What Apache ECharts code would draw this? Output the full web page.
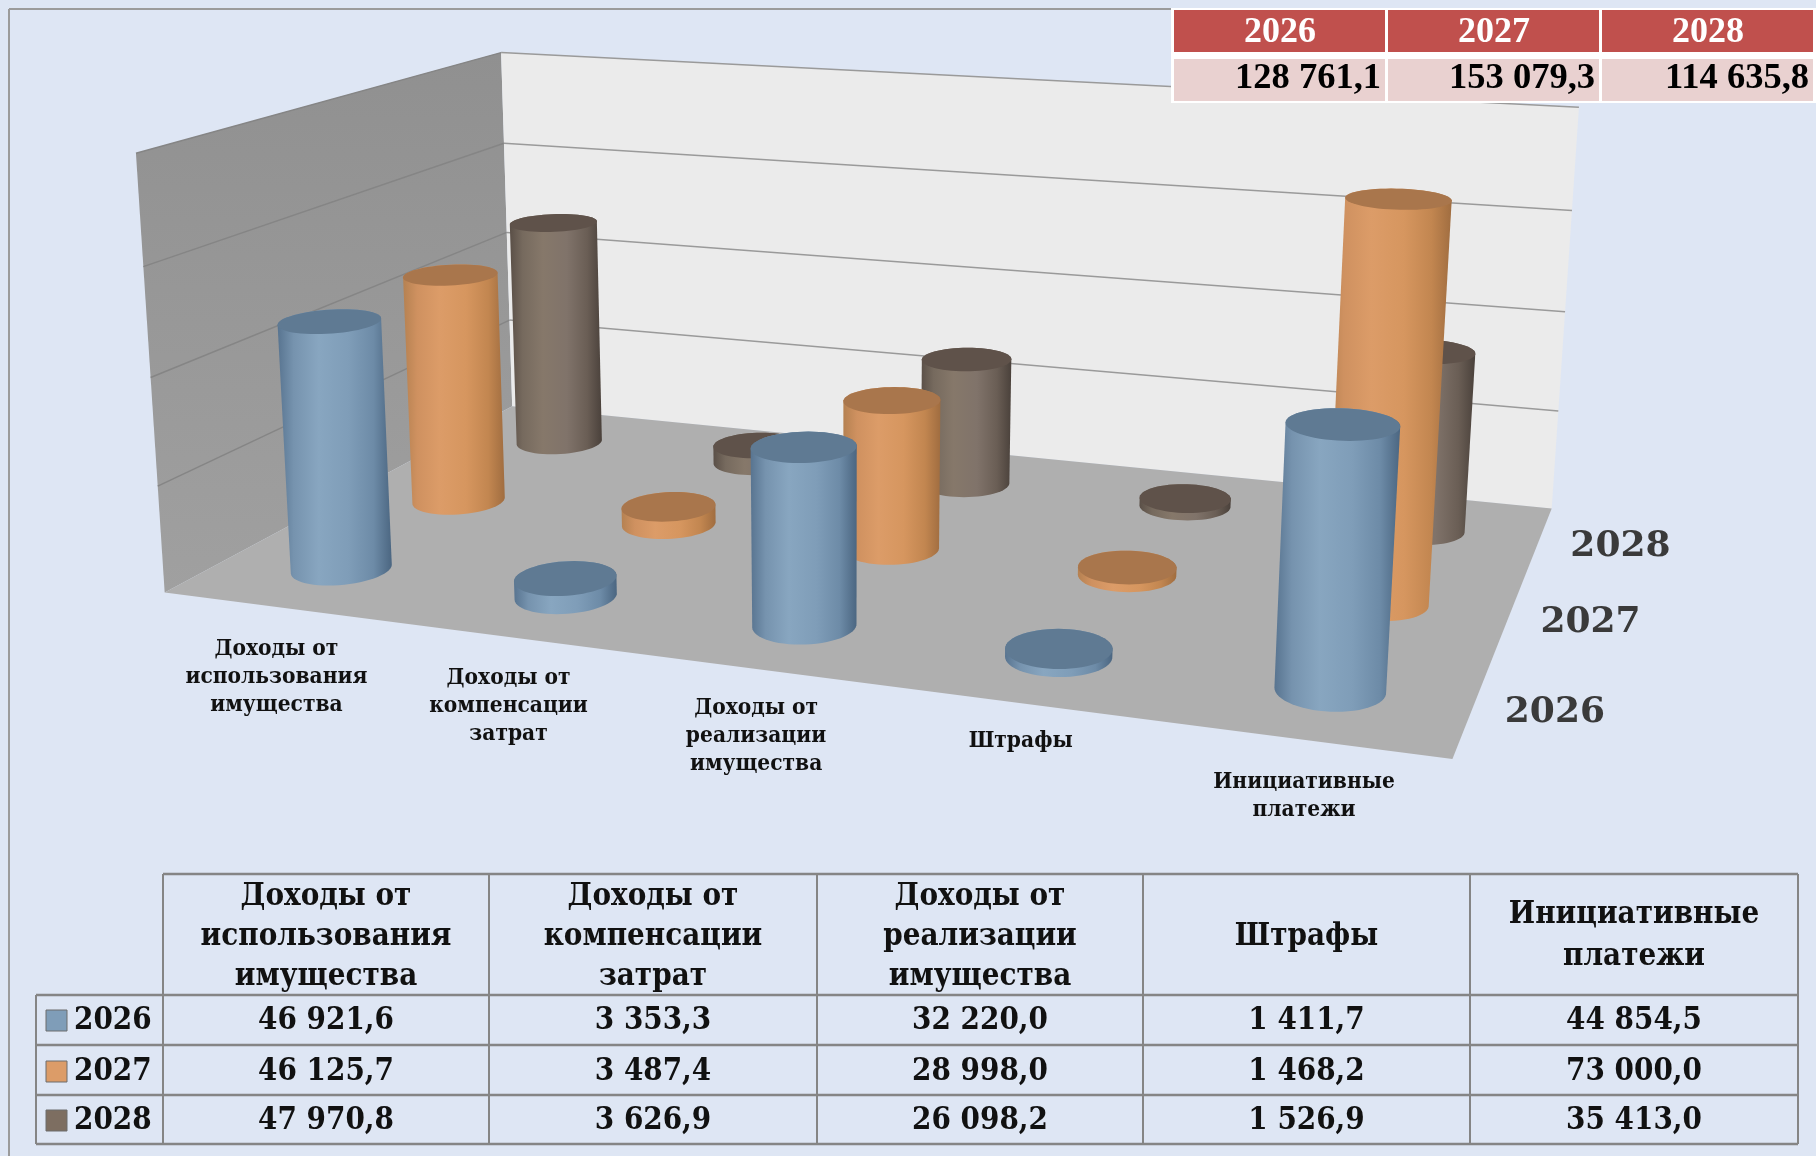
<!DOCTYPE html>
<html lang="ru"><head><meta charset="utf-8">
<style>html,body{margin:0;padding:0;background:#dee6f4}#c{width:1816px;height:1156px}</style>
<script src="https://cdn.jsdelivr.net/npm/echarts@6/dist/echarts.min.js"></script>
</head><body><div id="c"></div>
<script>
// ---------- data ----------
const categories = ['Доходы от\nиспользования\nимущества','Доходы от\nкомпенсации\nзатрат','Доходы от\nреализации\nимущества','Штрафы','Инициативные\nплатежи'];
const years = ['2026','2027','2028'];
const values2026 = [46921.6,3353.3,32220.0,1411.7,44854.5];
const values2027 = [46125.7,3487.4,28998.0,1468.2,73000.0];
const values2028 = [47970.8,3626.9,26098.2,1526.9,35413.0];
const totals = [128761.1,153079.3,114635.8];
const valueTicks = [0,20000,40000,60000,80000];

// ---------- style ----------
const BG='#dee6f4', SERIF='"DejaVu Serif Condensed","DejaVu Serif",serif', TIMES='"Liberation Serif",serif';
const palette = {
  '2026':{stops:['#587490','#7693ae','#88a6c0','#7f9db8','#6d8ba7','#4b6681'],top:'#5f7a93',key:'#7f9db8'},
  '2027':{stops:['#b58151','#cf9160','#dc9c68','#d6965f','#c28650','#a06d40'],top:'#a9764c',key:'#dc9c68'},
  '2028':{stops:['#5a4f47','#766a5e','#86786a','#80736a','#6a5e55','#4a413b'],top:'#5f524a',key:'#7d6e61'}
};
const STOP_OFFSETS=[0,.14,.36,.62,.84,1];

// ---------- perspective camera, fitted on the box's corners: [u,depth,v,screenX,screenY] ----------
const calib=[[0,0,0,165,592.5],[1,0,0,1452,760],[1,1,0,1552,507],[0,1,0,512,407],[0,1,1,501,52.7],[1,1,1,1579,108],[0,0,1,136,152.5]];
function fitCamera(){
  const n=11,A=[];
  for(let i=0;i<n;i++)A.push(new Array(n+1).fill(0));
  const add=(r,b)=>{for(let i=0;i<n;i++){for(let j=0;j<n;j++)A[i][j]+=r[i]*r[j];A[i][n]+=r[i]*b;}};
  calib.forEach(([u,d,v,x,y])=>{x/=1000;y/=1000;
    add([1,u,d,v,0,0,0,0,-x*u,-x*d,-x*v],x);
    add([0,0,0,0,1,u,d,v,-y*u,-y*d,-y*v],y);});
  for(let i=0;i<n;i++)A[i][i]+=1e-9;
  for(let i=0;i<n;i++){let p=i;for(let k=i+1;k<n;k++)if(Math.abs(A[k][i])>Math.abs(A[p][i]))p=k;
    [A[i],A[p]]=[A[p],A[i]];
    for(let k=0;k<n;k++){if(k===i)continue;const f=A[k][i]/A[i][i];for(let j=i;j<=n;j++)A[k][j]-=f*A[i][j];}}
  return A.map((r,i)=>r[n]/r[i]);
}
const cam=fitCamera();
function project(u,d,v){
  const w=1+cam[8]*u+cam[9]*d+cam[10]*v;
  return [1000*(cam[0]+cam[1]*u+cam[2]*d+cam[3]*v)/w,1000*(cam[4]+cam[5]*u+cam[6]*d+cam[7]*v)/w];
}
// axis pixels -> normalised box coordinates
function norm(p,cs){return [(p[0]-cs.x)/cs.width,(cs.y+cs.height-p[1])/cs.height];}
const RU=0.039,RD=0.072,N=60;
function hull(pts){
  const s=pts.slice().sort((a,b)=>a[0]-b[0]||a[1]-b[1]),cr=(o,a,b)=>(a[0]-o[0])*(b[1]-o[1])-(a[1]-o[1])*(b[0]-o[0]);
  const lo=[],up=[];
  for(const p of s){while(lo.length>1&&cr(lo[lo.length-2],lo[lo.length-1],p)<=0)lo.pop();lo.push(p);}
  for(const p of s.slice().reverse()){while(up.length>1&&cr(up[up.length-2],up[up.length-1],p)<=0)up.pop();up.push(p);}
  return lo.slice(0,-1).concat(up.slice(0,-1));
}
function cylinderSeries(yearIdx,values){
  const yr=years[yearIdx],pal=palette[yr],depth=(yearIdx+.5)/years.length;
  return {type:'custom',name:yr,coordinateSystem:'cartesian2d',silent:true,clip:false,
    data:values.map((v,i)=>[i,v]),
    renderItem(params,api){
      const cs=params.coordSys;
      const [u,v]=norm(api.coord([api.value(0),api.value(1)]),cs);
      const ring=h=>{const a=[];for(let k=0;k<N;k++){const t=k/N*2*Math.PI;a.push(project(u+RU*Math.cos(t),depth+RD*Math.sin(t),h));}return a;};
      const bot=ring(0),top=ring(v);
      const grad={type:'linear',x:0,y:0,x2:1,y2:0,colorStops:pal.stops.map((c,k)=>({offset:STOP_OFFSETS[k],color:c}))};
      return {type:'group',children:[
        {type:'polygon',shape:{points:hull(bot.concat(top))},style:{fill:grad}},
        {type:'polygon',shape:{points:top},style:{fill:pal.top}}
      ]};
    }};
}
const wallsSeries={type:'custom',name:'walls',coordinateSystem:'cartesian2d',silent:true,clip:false,
  data:[[0,valueTicks[valueTicks.length-1]]],
  renderItem(params,api){
    const cs=params.coordSys,top=norm(api.coord([0,valueTicks[valueTicks.length-1]]),cs)[1];
    const poly=(pts,fill)=>({type:'polygon',shape:{points:pts},style:{fill}});
    const kids=[
      poly([project(0,0,0),project(0,1,0),project(0,1,top),project(0,0,top)],{type:'linear',x:0,y:0,x2:0,y2:1,colorStops:[{offset:0,color:'#909090'},{offset:1,color:'#a0a0a0'}]}),
      poly([project(0,1,0),project(1,1,0),project(1,1,top),project(0,1,top)],'#ebebeb'),
      poly([project(0,0,0),project(1,0,0),project(1,1,0),project(0,1,0)],'#afafaf')
    ];
    const line=(a,b,c)=>({type:'line',shape:{x1:a[0],y1:a[1],x2:b[0],y2:b[1]},style:{stroke:c,lineWidth:1.5}});
    valueTicks.forEach(t=>{
      const v=norm(api.coord([0,t]),cs)[1];
      if(t>0){kids.push(line(project(0,0,v),project(0,1,v),'#858585'));kids.push(line(project(0,1,v),project(1,1,v),'#9a9a9a'));}
    });
    return {type:'group',children:kids};
  }};
const labelNudgeY=[1,0,-2,-3,2];
const categoryLabelSeries={type:'custom',name:'catLabels',coordinateSystem:'cartesian2d',silent:true,clip:false,
  data:categories.map((c,i)=>[i,0]),
  renderItem(params,api){
    const i=api.value(0),u=norm(api.coord([i,0]),params.coordSys)[0],p=project(u,0,0);
    return {type:'text',style:{text:categories[i],x:p[0]+1,y:p[1]+27+labelNudgeY[i],align:'center',verticalAlign:'top',font:'bold 22.5px '+SERIF,lineHeight:28,fill:'#111'}};
  }};
const depthLabelSeries={type:'custom',name:'depthLabels',coordinateSystem:'cartesian2d',silent:true,clip:false,
  data:years.map((y,i)=>[i,0]),
  renderItem(params,api){
    const i=api.value(0),p=project(1,(i+.5)/years.length,0);
    return {type:'text',style:{text:years[i],x:p[0]+82,y:p[1]+5,align:'center',verticalAlign:'middle',font:'bold 36px "DejaVu Serif",serif',fill:'#3a3a3a'}};
  }};

// ---------- tables ----------
function fmt(v){const s=v.toFixed(1).split('.');return s[0].replace(/\B(?=(\d{3})+$)/g,' ')+','+s[1];}
const els=[];
const Z=50;
const rect=(x,y,w,h,fill,stroke)=>els.push({type:'rect',z:Z,silent:true,shape:{x,y,width:w,height:h},style:{fill,stroke:stroke||null,lineWidth:stroke?1:0}});
const seg=(x1,y1,x2,y2,c,w)=>els.push({type:'line',z:Z,silent:true,shape:{x1,y1,x2,y2},style:{stroke:c,lineWidth:w}});
const txt=(t,x,y,font,fill,align)=>els.push({type:'text',z:Z+1,silent:true,style:{text:t,x,y,font,fill,align:align||'center',verticalAlign:'middle'}});
// frame
seg(9,9,1173,9,'#9b9b9b',2); seg(9,9,9,1156,'#9b9b9b',2);
// top totals table
const tx=[1173,1387,1601,1815];
rect(1171,8,645,95,'#ffffff');
years.forEach((y,i)=>{
  rect(tx[i]+1,10,tx[i+1]-tx[i]-3,42,'#c0504d');
  rect(tx[i]+1,59,tx[i+1]-tx[i]-3,42,'#e9d1d0');
  txt(y,(tx[i]+tx[i+1])/2,33,'bold 36px '+TIMES,'#fff');
  txt(fmt(totals[i]),tx[i+1]-6,79,'bold 36.5px '+TIMES,'#000','right');
});
// bottom data table
const gx=[163,489,817,1143,1470,1798], gy=[874,995,1045,1095,1144], LEFT=36;
const F='bold 31px '+SERIF, rows=[values2026,values2027,values2028], rowMid=[1021,1072,1121];
const headMid=[[897,937,977],[897,937,977],[897,937,977],[937],[915,957]];
categories.forEach((c,i)=>{c.split('\n').forEach((line,k)=>txt(line,(gx[i]+gx[i+1])/2,headMid[i][k],F,'#111'));});
years.forEach((y,r)=>{
  rect(46,rowMid[r]-11,21,21,palette[y].key,'#6d6d6d');
  txt(y,74,rowMid[r],F,'#111','left');
  rows[r].forEach((v,i)=>txt(fmt(v),(gx[i]+gx[i+1])/2,rowMid[r],F,'#111'));
});
const GL='#858585';
gy.forEach((y,k)=>seg(k===0?gx[0]:LEFT,y,gx[5],y,GL,2.5));
gx.forEach(x=>seg(x,gy[0],x,gy[4],GL,2));
seg(LEFT,gy[1],LEFT,gy[4],GL,2);

const chart=echarts.init(document.getElementById('c'),null,{width:1816,height:1156});
chart.setOption({
  animation:false,backgroundColor:BG,
  grid:{left:100,top:100,width:1000,height:500},
  xAxis:{type:'category',data:categories,show:false},
  yAxis:{type:'value',min:valueTicks[0],max:valueTicks[valueTicks.length-1],interval:20000,show:false},
  series:[wallsSeries,depthLabelSeries,categoryLabelSeries,
    cylinderSeries(2,values2028),cylinderSeries(1,values2027),cylinderSeries(0,values2026)],
  graphic:{elements:els}
});
</script></body></html>
